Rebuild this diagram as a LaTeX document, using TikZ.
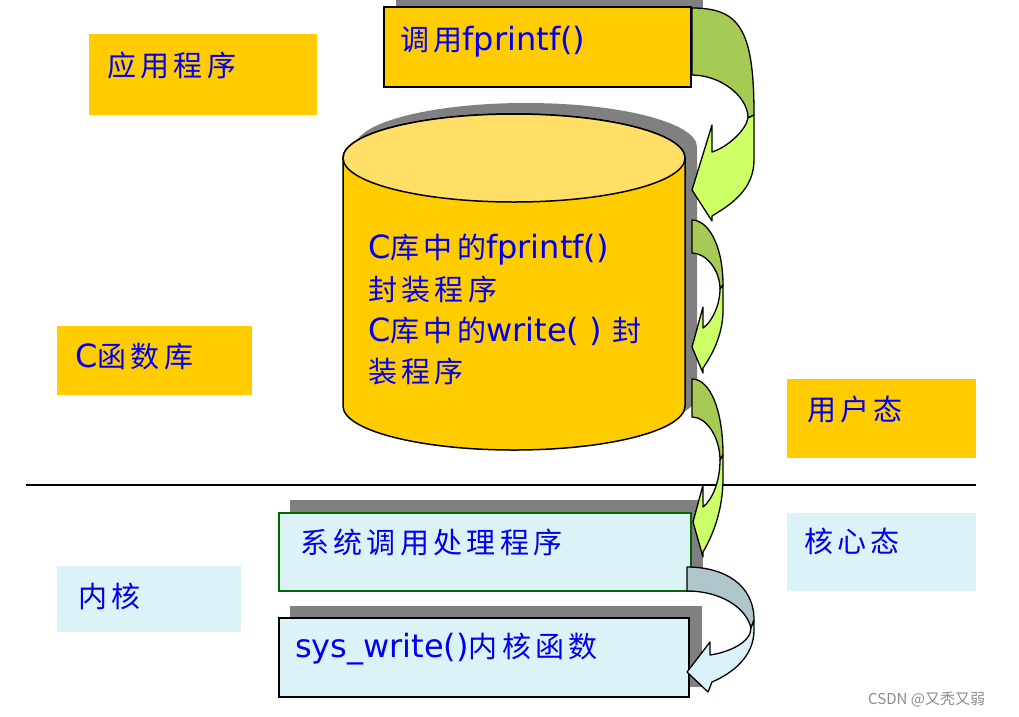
\documentclass[tikz,border=0pt]{standalone}
\usepackage{fontspec}
\setmainfont{DejaVu Sans}
\newfontfamily\cjk{Noto Sans CJK SC}
\definecolor{gold}{HTML}{FFCC00}
\definecolor{goldtop}{HTML}{FFDF66}
\definecolor{cyanbg}{HTML}{DBF3F7}
\definecolor{shadowgray}{HTML}{808080}
\definecolor{txtblue}{HTML}{0000F0}
\definecolor{arrdark}{HTML}{A6CB55}
\definecolor{arrlight}{HTML}{CCFF66}
\definecolor{grydark}{HTML}{AFC7CB}
\definecolor{grylight}{HTML}{DAF3F8}
\definecolor{boxgreen}{HTML}{006600}
\newcommand\zh[1]{{\cjk\fontsize{29}{35}\selectfont\addfontfeature{LetterSpace=15}#1}}
\tikzset{
  lbl/.style={anchor=base west, inner sep=0pt, text=txtblue, font=\fontsize{32}{38}\selectfont},
  boxline/.style={draw=black, line width=1.5pt},
  shade/.style={fill=shadowgray},
  arrowline/.style={draw=black, line width=1.3pt, line join=round},
}
\begin{document}
\begin{tikzpicture}[x=1pt,y=-1pt]
\useasboundingbox (0,0) rectangle (1019,716);
% plain label boxes
\fill[gold] (89,34) rectangle (317,115);
\fill[gold] (57,326) rectangle (252,395);
\fill[gold] (787,379) rectangle (976,458);
\fill[cyanbg] (787,513) rectangle (976,591);
\fill[cyanbg] (57,566) rectangle (241,632);
% fprintf call box
\fill[shade] (396,-5) rectangle (703,75);
\path[boxline, fill=gold] (384,7) rectangle (691,87);
% cylinder
\fill[shade, shift={(12,-11)}] (343,158) -- (343,406) .. controls (343,430.3) and (419.6,450) .. (514,450) .. controls (608.4,450) and (685,430.3) .. (685,406) -- (685,158) .. controls (685,133.7) and (608.4,114) .. (514,114) .. controls (419.6,114) and (343,133.7) .. (343,158) -- cycle;
\path[boxline, fill=gold] (343,158) -- (343,406) .. controls (343,430.3) and (419.6,450) .. (514,450) .. controls (608.4,450) and (685,430.3) .. (685,406) -- (685,158) .. controls (685,133.7) and (608.4,114) .. (514,114) .. controls (419.6,114) and (343,133.7) .. (343,158) -- cycle;
\path[boxline, fill=goldtop] (343,158) .. controls (343,133.7) and (419.6,114) .. (514,114) .. controls (608.4,114) and (685,133.7) .. (685,158) .. controls (685,182.3) and (608.4,202) .. (514,202) .. controls (419.6,202) and (343,182.3) .. (343,158) -- cycle;
% kernel boxes
\fill[shade] (290,500) rectangle (703,579);
\path[draw=boxgreen, line width=1.3pt, fill=cyanbg] (279,513) rectangle (691,591);
\fill[shade] (290,606) rectangle (702,687);
\path[boxline, fill=cyanbg] (279,618) rectangle (689,697);
% user / kernel separator
\draw[line width=2pt] (26,485) -- (976,485);
% curved arrow 1
\path[arrowline, fill=arrdark] (692,8) .. controls (740,8) and (754,30) .. (754,115) -- (748,118) .. controls (748,96) and (720,75) .. (692,75) -- cycle;
\path[arrowline, fill=arrlight] (754,115) -- (754,160) .. controls (754,190) and (730,205) .. (712,216) -- (712,221) -- (692,190) -- (712,125) -- (712,152) .. controls (728,147) and (746,130) .. (748,118) -- cycle;
% curved arrow 2
\path[arrowline, fill=arrdark] (692,220) .. controls (708,220) and (723,245) .. (723,285) -- (720,289) .. controls (720,270) and (706,253) .. (692,253) -- cycle;
\path[arrowline, fill=arrlight] (723,285) -- (723,310) .. controls (723,335) and (712,355) .. (703,368) -- (703,373) -- (692,347) -- (703,307) -- (703,328) .. controls (712,322) and (720,305) .. (720,289) -- cycle;
% curved arrow 3
\path[arrowline, fill=arrdark] (692,379) .. controls (710,379) and (723,410) .. (723,455) -- (720,460) .. controls (720,438) and (707,417) .. (692,417) -- cycle;
\path[arrowline, fill=arrlight] (723,455) -- (723,478) .. controls (723,510) and (713,535) .. (703,552) -- (703,557) -- (693,522) -- (703,485) -- (703,507) .. controls (712,500) and (720,482) .. (720,460) -- cycle;
% curved arrow 4 (kernel)
\path[arrowline, fill=grydark] (687,567) .. controls (725,567) and (754,585) .. (754,620) -- (751,628) .. controls (746,607) and (720,591) .. (687,591) -- cycle;
\path[arrowline, fill=grylight] (754,620) -- (754,630) .. controls (754,655) and (735,672) .. (712,682) -- (708,692) -- (687,672) -- (710,642) -- (710,655) .. controls (730,652) and (751,642) .. (751,628) -- cycle;
% texts
\node[lbl] (app) at (107,76) {\zh{应用程序}};
\node[lbl] (call) at (400,50) {\zh{调用}fprintf()};
\node[lbl] (clib) at (75,367) {C\zh{函数库}};
\node[lbl] (cyl1) at (368,258) {C\zh{库中的}fprintf()};
\node[lbl] (cyl2) at (368,300) {\zh{封装程序}};
\node[lbl] (cyl3) at (368,341) {C\zh{库中的}write( ) \zh{封}};
\node[lbl] (cyl4) at (368,382) {\zh{装程序}};
\node[lbl] (user) at (807,420) {\zh{用户态}};
\node[lbl] (kmode) at (804,552) {\zh{核心态}};
\node[lbl] (kern) at (78,607) {\zh{内核}};
\node[lbl] (sysc) at (300,553) {\zh{系统调用处理程序}};
\node[lbl] (sysw) at (295,657) {sys\_write()\zh{内核函数}};
\node[anchor=base west, inner sep=0pt, text=black!45, font=\cjk\fontsize{15}{18}\selectfont] (mark) at (868,704) {CSDN @又秃又弱};
\end{tikzpicture}
\end{document}
